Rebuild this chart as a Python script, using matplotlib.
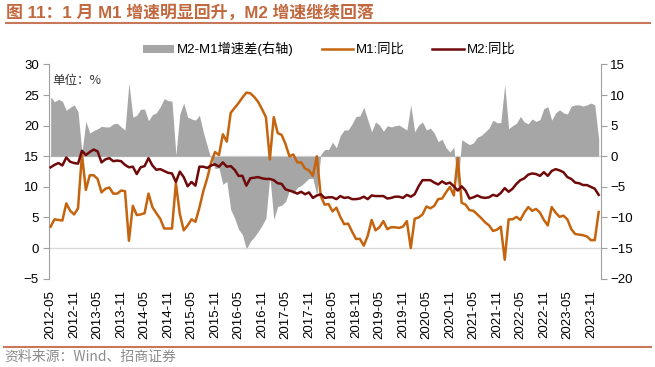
import matplotlib
matplotlib.use("Agg")
import matplotlib.pyplot as plt
from matplotlib.lines import Line2D
import numpy as np

# ---------------- data (2012-05 .. 2024-01, monthly) ----------------
start_year, start_month = 2012, 5
m1 = [3.5, 4.7, 4.6, 4.5, 7.3, 6.1, 5.5, 6.5,
      15.3, 9.5, 11.9, 11.9, 11.3, 9.1, 9.7, 9.9, 8.9, 8.9, 9.4, 9.3,
      1.2, 6.9, 5.4, 5.5, 5.7, 8.9, 6.7, 5.7, 4.8, 3.2, 3.2, 3.2,
      10.6, 5.6, 2.9, 3.7, 4.7, 4.3, 6.6, 9.3, 11.4, 14.0, 15.7, 15.2,
      18.6, 17.4, 22.1, 22.9, 23.7, 24.6, 25.4, 25.3, 24.7, 23.9, 22.7, 21.4,
      14.5, 21.4, 18.8, 18.5, 17.0, 15.0, 15.3, 14.0, 14.0, 13.0, 12.7, 11.8,
      15.0, 8.5, 7.1, 7.2, 6.0, 6.6, 5.1, 3.9, 4.0, 2.7, 1.5, 1.5,
      0.4, 2.0, 4.6, 2.9, 3.4, 4.4, 3.1, 3.4, 3.4, 3.3, 3.5, 4.4,
      0.0, 4.8, 5.0, 5.5, 6.8, 6.5, 6.9, 8.0, 8.1, 9.1, 10.0, 8.6,
      14.7, 7.4, 7.1, 6.2, 6.1, 5.5, 4.9, 4.2, 3.7, 2.8, 3.0, 3.5,
      -1.9, 4.7, 4.7, 5.1, 4.6, 5.8, 6.7, 6.1, 6.4, 5.8, 4.6, 3.7,
      6.7, 5.8, 5.1, 5.3, 4.7, 3.1, 2.3, 2.2, 2.1, 1.9, 1.3, 1.3,
      5.9]
m2 = [13.2, 13.6, 13.9, 13.5, 14.8, 14.1, 13.9, 13.8,
      15.9, 15.2, 15.7, 16.1, 15.8, 14.0, 14.5, 14.7, 14.2, 14.3, 14.2, 13.6,
      13.2, 13.3, 12.1, 13.2, 13.4, 14.7, 13.5, 12.8, 12.9, 12.6, 12.3, 12.2,
      10.8, 12.5, 11.6, 10.1, 10.8, 10.2, 13.3, 13.3, 13.1, 13.5, 13.7, 13.3,
      14.0, 13.3, 13.4, 12.8, 11.8, 11.8, 10.2, 11.4, 11.5, 11.6, 11.4, 11.3,
      11.3, 11.1, 10.6, 10.5, 9.6, 9.4, 9.2, 8.9, 9.2, 8.8, 9.1, 8.2,
      8.6, 8.8, 8.2, 8.3, 8.3, 8.0, 8.5, 8.2, 8.3, 8.0, 8.0, 8.1,
      8.4, 8.0, 8.6, 8.5, 8.5, 8.5, 8.1, 8.2, 8.4, 8.4, 8.2, 8.7,
      8.4, 8.8, 10.1, 11.1, 11.1, 11.1, 10.7, 10.4, 10.9, 10.5, 10.7, 10.1,
      9.4, 10.1, 9.4, 8.1, 8.3, 8.6, 8.3, 8.2, 8.3, 8.7, 8.5, 9.0,
      9.8, 9.2, 9.7, 10.5, 11.1, 11.4, 12.0, 12.2, 12.1, 11.8, 12.4, 11.8,
      12.6, 12.9, 12.7, 12.4, 11.6, 11.3, 10.7, 10.6, 10.3, 10.3, 10.0, 9.7,
      8.7]
spread = [9.7, 8.9, 9.3, 9.0, 7.5, 8.0, 8.4, 7.3,
          0.6, 5.7, 3.8, 4.2, 4.5, 4.9, 4.8, 4.8, 5.3, 5.4, 4.8, 4.3,
          12.0, 6.4, 6.7, 7.7, 7.7, 5.8, 6.8, 7.1, 8.1, 9.4, 9.1, 9.0,
          0.2, 6.9, 8.7, 6.4, 6.1, 5.9, 6.7, 4.0, 1.7, -0.5, -2.0, -1.9,
          -4.6, -4.1, -8.7, -10.1, -11.9, -12.8, -15.2, -13.9, -13.2, -12.3, -11.3, -10.1,
          -3.2, -10.3, -8.2, -8.0, -7.4, -5.6, -6.1, -5.1, -4.8, -4.2, -3.6, -3.6,
          -6.4, 0.3, 1.1, 1.1, 2.3, 1.4, 3.4, 4.3, 4.3, 5.3, 6.5, 6.6,
          8.0, 6.0, 4.0, 5.6, 5.1, 4.1, 5.0, 4.8, 5.0, 5.1, 4.7, 4.3,
          8.4, 4.0, 5.1, 5.6, 4.3, 4.6, 3.8, 2.4, 2.8, 1.4, 0.7, 1.5,
          -5.3, 2.7, 2.3, 1.9, 2.2, 3.1, 3.4, 4.0, 4.6, 5.9, 5.5, 5.5,
          11.7, 4.5, 5.0, 5.4, 6.5, 5.6, 5.3, 6.1, 5.7, 6.0, 7.8, 8.1,
          5.9, 7.1, 7.6, 7.1, 6.9, 8.2, 8.4, 8.4, 8.2, 8.4, 8.7, 8.4,
          2.8]

n = len(m1)
labels = []
for i in range(n):
    y = start_year + (start_month - 1 + i) // 12
    m = (start_month - 1 + i) % 12 + 1
    labels.append(f"{y}-{m:02d}")
tick_idx = list(range(0, n, 6))
tick_labels = [labels[i] for i in tick_idx]

title = "图 11：1 月 M1 增速明显回升，M2 增速继续回落"
source = "资料来源：Wind、招商证券"

# ---------------- styling ----------------
FAM = ['Liberation Sans', 'Noto Sans CJK SC']
plt.rcParams['font.family'] = FAM
C_M1 = '#C5640E'
C_M2 = '#700A0A'
C_AREA = '#A6A6A6'
C_TITLE = '#C2683F'
C_RULE = '#C8785A'
C_AX = '#A0A0A0'

fig = plt.figure(figsize=(6.55, 3.67), dpi=100)
ax = fig.add_axes([0.0743, 0.2406, 0.917 - 0.0743, 0.8243 - 0.2406])
ax2 = ax.twinx()
ax.set_zorder(ax2.get_zorder() + 1)
ax.patch.set_visible(False)

x = np.arange(n)
ax2.fill_between(x, spread, 0, color=C_AREA, linewidth=0, label='M2-M1增速差(右轴)')
ax2.axhline(0, color='#D9D9D9', lw=1.0, zorder=0.5)
ax.axhline(0, color='#D9D9D9', lw=1.0, zorder=0.5)
ax.plot(x, m1, color=C_M1, lw=1.8, label='M1:同比', zorder=3)
ax.plot(x, m2, color=C_M2, lw=1.8, label='M2:同比', zorder=4)

ax.set_xlim(-0.5, n - 0.5)
ax.set_ylim(-5, 30)
ax2.set_ylim(-20, 15)
ax.set_yticks(range(-5, 31, 5))
ax2.set_yticks(range(-20, 16, 5))
ax.set_xticks(tick_idx)
ax.set_xticklabels(tick_labels, rotation=90, fontsize=9.5)
ax.tick_params(axis='x', length=0, pad=8)
ax.tick_params(axis='y', labelsize=9.5, length=4, color=C_AX, pad=3, direction='out')
ax2.tick_params(axis='y', labelsize=9.5, length=4, color=C_AX, pad=3, direction='out')

for a in (ax, ax2):
    for s in ('top', 'bottom'):
        a.spines[s].set_visible(False)
    a.spines['left'].set_color(C_AX)
    a.spines['right'].set_color(C_AX)
ax.spines['right'].set_visible(False)
ax2.spines['left'].set_visible(False)

ax.text(0.006, 0.955, "单位：%", transform=ax.transAxes, fontsize=9,
        ha='left', va='top', color='#333333', family=['Noto Sans CJK SC'])

h2, l2 = ax2.get_legend_handles_labels()
h1, l1 = ax.get_legend_handles_labels()
fig.legend(h2 + h1, l2 + l1, loc='center', bbox_to_anchor=(329 / 655, 1 - 49 / 367),
           ncol=3, frameon=False, fontsize=9.5, handlelength=2.4,
           handletextpad=0.2, columnspacing=2.1, handleheight=0.55)

fig.text(6 / 655, 1 - 12.5 / 367, title, fontsize=12.2, fontweight='bold',
         color=C_TITLE, ha='left', va='center')
fig.add_artist(Line2D([6 / 655, 650 / 655], [1 - 23 / 367] * 2, color=C_RULE, lw=1.5,
                      transform=fig.transFigure))
fig.add_artist(Line2D([4 / 655, 651 / 655], [1 - 347.3 / 367] * 2, color=C_RULE, lw=1.5,
                      transform=fig.transFigure))
fig.text(4 / 655, 1 - 356.5 / 367, source, fontsize=10, color='#8C8C8C',
         ha='left', va='center', family=['Noto Sans CJK SC', 'Liberation Sans'])

fig.savefig('out.png', dpi=100)
